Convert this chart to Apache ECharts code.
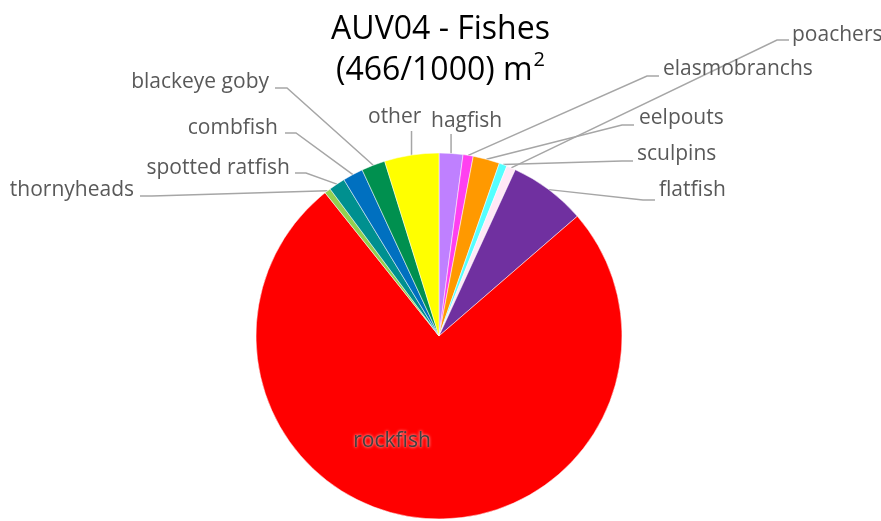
<!DOCTYPE html>
<html>
<head>
<meta charset="utf-8">
<script src="https://cdn.jsdelivr.net/npm/echarts@6/dist/echarts.min.js"></script>
<style>
  html, body { margin: 0; padding: 0; background: #fff; }
  #main { width: 881px; height: 521px; }
</style>
</head>
<body>
<div id="main"></div>
<script>
// slices, clockwise from 12 o'clock (percent of fish counted)
const names = ['hagfish', 'elasmobranchs', 'eelpouts', 'sculpins', 'poachers', 'flatfish',
  'rockfish', 'thornyheads', 'spotted ratfish', 'combfish', 'blackeye goby', 'other'];
const values = [2.1, 0.9, 2.35, 0.7, 0.8, 6.8, 75.7, 0.55, 1.45, 1.8, 2.1, 4.8];
const colors = ['#bf80ff', '#ff40f0', '#ff9900', '#55ffff', '#ffe8f6', '#7030a0',
  '#ff0000', '#92d050', '#00908f', '#0070c0', '#00904f', '#ffff00'];

// where each label sits (x, y = text anchor; elbow/end = leader line bend)
const labelPos = {
  'hagfish':         { x: 431, y: 121, align: 'left', up: 134 },
  'other':           { x: 368, y: 117, align: 'left', up: 131 },
  'poachers':        { x: 792, y: 35,  align: 'left',  elbow: [777, 40],  end: [789, 40] },
  'elasmobranchs':   { x: 663, y: 69,  align: 'left',  elbow: [647, 76],  end: [659, 76] },
  'eelpouts':        { x: 639, y: 118, align: 'left',  elbow: [622, 125], end: [634, 125] },
  'sculpins':        { x: 637, y: 154, align: 'left',  elbow: [622, 161], end: [633, 161] },
  'flatfish':        { x: 659, y: 190, align: 'left',  elbow: [643, 200], end: [655, 200] },
  'thornyheads':     { x: 134, y: 190, align: 'right', elbow: [152, 196], end: [140, 196] },
  'spotted ratfish': { x: 290, y: 168, align: 'right', elbow: [306, 173], end: [295, 173] },
  'combfish':        { x: 278, y: 128, align: 'right', elbow: [296, 133], end: [285, 133] },
  'blackeye goby':   { x: 269, y: 82,  align: 'right', elbow: [287, 88],  end: [275, 88] },
  'rockfish':        { x: 392, y: 441, align: 'center' }
};

const cx = 439, cy = 336, r = 183;
const total = values.reduce((a, b) => a + b, 0);

function edgePoint(idx) {
  let before = 0;
  for (let i = 0; i < idx; i++) before += values[i];
  const mid = (before + values[idx] / 2) / total * Math.PI * 2;
  return [cx + r * Math.sin(mid), cy - r * Math.cos(mid)];
}

const chart = echarts.init(document.getElementById('main'));

const pieData = names.map((n, i) => {
  const item = { name: n, value: values[i], itemStyle: { color: colors[i] } };
  if (n === 'rockfish') {
    item.labelLine = { show: false };
    item.label = {
      color: '#404040',
      textShadowColor: 'rgba(255,255,255,0.9)',
      textShadowBlur: 3
    };
  }
  return item;
});

chart.setOption({
  animation: false,
  title: {
    text: 'AUV04 - Fishes\n(466/1000) m{sup|2}',
    left: 'center',
    top: 4,
    textStyle: {
      fontFamily: 'Open Sans',
      fontSize: 32,
      fontWeight: 'normal',
      color: '#000',
      lineHeight: 41,
      rich: {
        sup: { fontFamily: 'Open Sans', fontSize: 20, verticalAlign: 'top', lineHeight: 41, padding: [0, 0, 0, 1] }
      }
    }
  },
  series: [{
    type: 'pie',
    center: [cx, cy],
    radius: r,
    startAngle: 90,
    clockwise: true,
    avoidLabelOverlap: false,
    itemStyle: { borderColor: '#ffffff', borderWidth: 0.5 },
    label: {
      show: true,
      position: 'outside',
      fontFamily: 'Open Sans',
      fontSize: 21,
      color: '#595959'
    },
    labelLine: {
      show: true,
      lineStyle: { color: '#a6a6a6', width: 1.5 }
    },
    labelLayout: function (params) {
      const name = names[params.dataIndex];
      const p = labelPos[name];
      if (!p) return {};
      const out = { x: p.x, y: p.y, align: p.align, verticalAlign: 'middle' };
      if (name === 'rockfish') return out;
      const p0 = edgePoint(params.dataIndex);
      if (p.up !== undefined) {
        out.labelLinePoints = [p0, [p0[0], p.up], [p0[0], p.up]];
      } else {
        out.labelLinePoints = [p0, p.elbow, p.end];
      }
      return out;
    },
    data: pieData
  }]
});
</script>
</body>
</html>
